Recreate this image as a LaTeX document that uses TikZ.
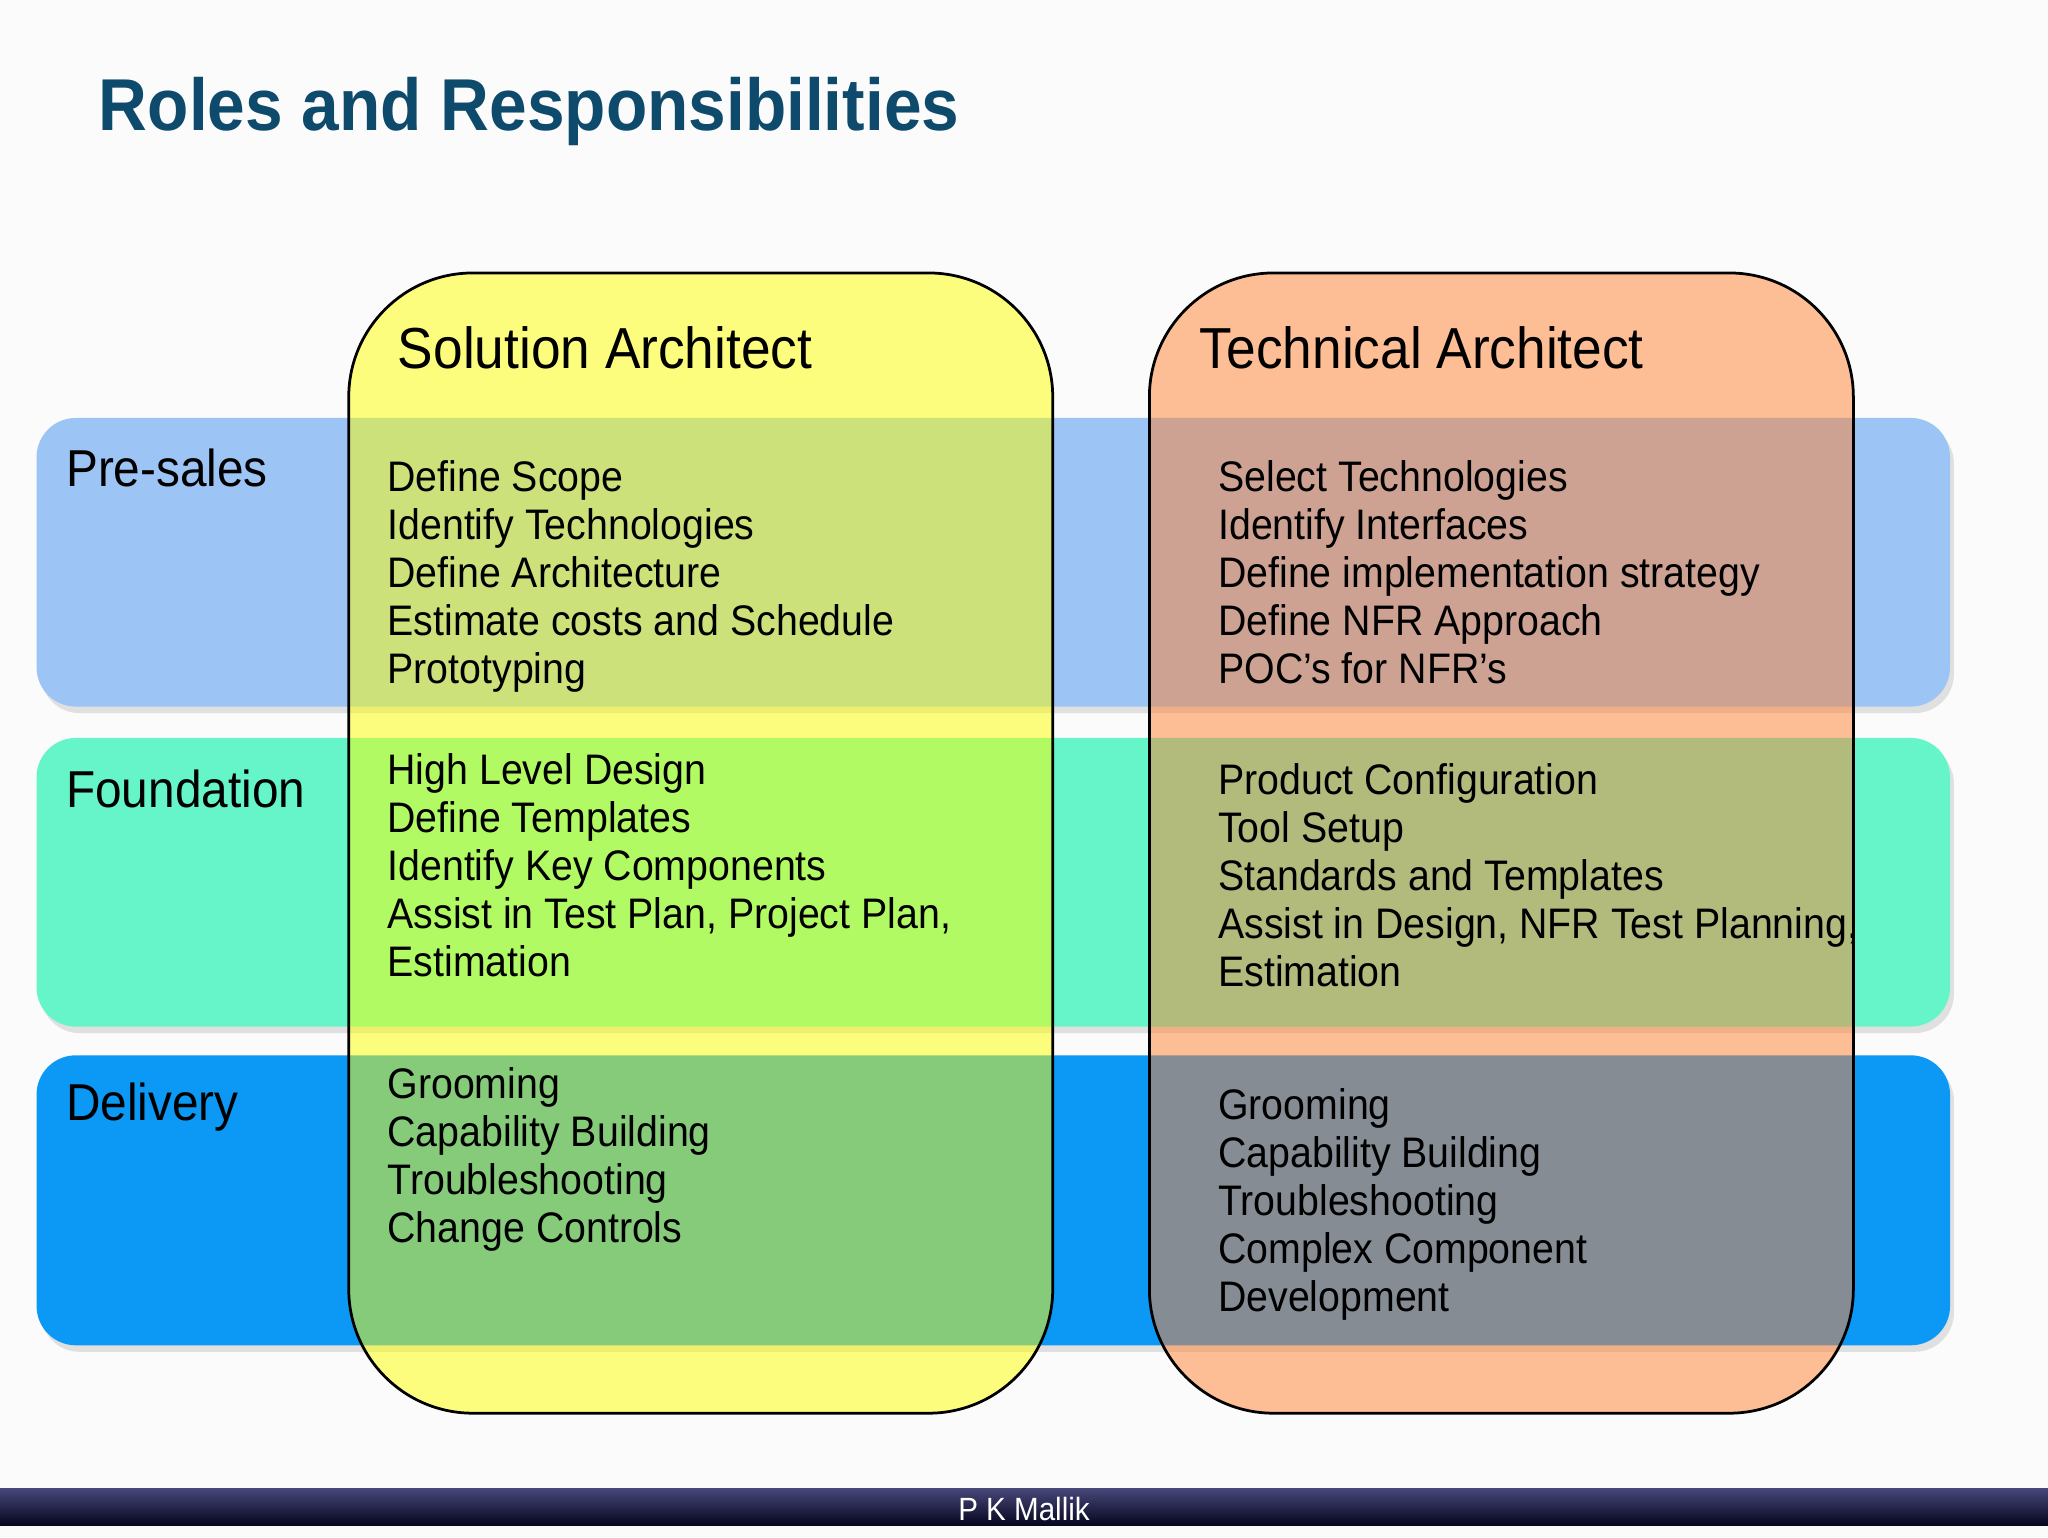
\documentclass[tikz,border=0pt]{standalone}
\usepackage{fontspec}
\setmainfont[FakeStretch=0.92]{Liberation Sans}
\begin{document}
\begin{tikzpicture}[x=0.01cm,y=-0.01cm,
 band/.style={rounded corners=0.3cm},
 col/.style={rounded corners=0.95cm,fill opacity=0.5},
 lst/.style={anchor=north west,align=left,inner sep=0pt,font=\fontsize{9.3}{10.45}\selectfont},
 lbl/.style={anchor=west,inner sep=0pt,font=\fontsize{11.3}{13}\selectfont},
 hd/.style={anchor=west,inner sep=0pt,font=\fontsize{12.6}{14}\selectfont}]
\definecolor{ttl}{HTML}{0E4A6B}
\useasboundingbox (0,0) rectangle (1568,1177);
\fill[white!97!gray] (0,0) rectangle (1568,1177);
\node[anchor=base west,inner sep=0pt,text=ttl,font=\fontsize{16}{20}\selectfont\bfseries] (title) at (75,100) {Roles and Responsibilities};
\fill[band,black!12] (31,325) rectangle (1496,546);
\fill[band,black!12] (31,570) rectangle (1496,791);
\fill[band,black!12] (31,813) rectangle (1496,1035);
\fill[band,fill={rgb,255:red,156;green,196;blue,245}] (28,320) rectangle (1493,541) coordinate (b1);
\fill[band,fill={rgb,255:red,102;green,245;blue,200}] (28,565) rectangle (1493,786) coordinate (b2);
\fill[band,fill={rgb,255:red,12;green,152;blue,245}] (28,808) rectangle (1493,1030) coordinate (b3);
\fill[col,fill={rgb,255:red,255;green,255;blue,0}] (267,209) rectangle (806,1082);
\fill[col,fill={rgb,255:red,255;green,130;blue,50}] (880,209) rectangle (1419,1082);
\draw[rounded corners=0.95cm,line width=0.6pt] (267,209) rectangle (806,1082);
\draw[rounded corners=0.95cm,line width=0.6pt] (880,209) rectangle (1419,1082);
\node[hd] (sa) at (304,266) {Solution Architect};
\node[hd] (ta) at (918,266) {Technical Architect};
\node[lbl] (ps) at (50,358) {Pre-sales};
\node[lbl] (fd) at (50,604) {Foundation};
\node[lbl] (dl) at (50,848) {Delivery};
\node[lst] (l1) at (296,352) {Define Scope\\Identify Technologies\\Define Architecture\\Estimate costs and Schedule\\Prototyping};
\node[lst] (r1) at (932,352) {Select Technologies\\Identify Interfaces\\Define implementation strategy\\Define NFR Approach\\POC’s for NFR’s};
\node[lst] (l2) at (296,576) {High Level Design\\Define Templates\\Identify Key Components\\Assist in Test Plan, Project Plan,\\Estimation};
\node[lst] (r2) at (932,584) {Product Configuration\\Tool Setup\\Standards and Templates\\Assist in Design, NFR Test Planning,\\Estimation};
\node[lst] (l3) at (296,817) {Grooming\\Capability Building\\Troubleshooting\\Change Controls};
\node[lst] (r3) at (932,833) {Grooming\\Capability Building\\Troubleshooting\\Complex Component\\Development};
\shade[top color={rgb,255:red,70;green,70;blue,120},bottom color={rgb,255:red,5;green,5;blue,30}] (0,1140) rectangle (1568,1168);
\node[text=white,inner sep=0pt,font=\fontsize{7}{8}\selectfont] (ft) at (784,1155) {P K Mallik};
\end{tikzpicture}
\end{document}
